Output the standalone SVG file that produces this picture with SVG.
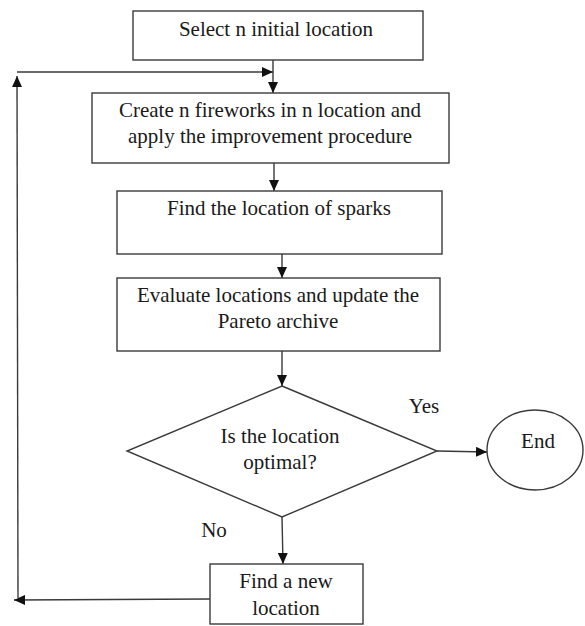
<svg xmlns="http://www.w3.org/2000/svg" width="585" height="626" viewBox="0 0 585 626">
  <style>
    .box { fill: #ffffff; stroke: #3a3a3a; stroke-width: 1.4; }
    .lbl { font-family: "Liberation Serif", "Times New Roman", serif; font-size: 21px; fill: #1a1a1a; text-anchor: middle; }
    .link { fill: none; stroke: #3a3a3a; stroke-width: 1.4; }
  </style>
  <defs>
    <marker id="arrow" viewBox="0 0 11 10" refX="11" refY="5" markerWidth="11" markerHeight="10" markerUnits="userSpaceOnUse" orient="auto">
      <path d="M0,0 L11,5 L0,10 Z" fill="#111111"/>
    </marker>
  </defs>
  <rect width="585" height="626" fill="#ffffff"/>

  <g id="connectors">
    <path class="link" d="M273,60 V93" marker-end="url(#arrow)"/>
    <path class="link" d="M17,72 H273" marker-end="url(#arrow)"/>
    <path class="link" d="M274,163 V191" marker-end="url(#arrow)"/>
    <path class="link" d="M282,254 V278" marker-end="url(#arrow)"/>
    <path class="link" d="M282,351 V386" marker-end="url(#arrow)"/>
    <path class="link" d="M437,451 L487,452" marker-end="url(#arrow)"/>
    <path class="link" d="M282,517 L283,564" marker-end="url(#arrow)"/>
    <path class="link" d="M210,599 L14,600" marker-end="url(#arrow)"/>
    <path class="link" d="M18,598 L17,76" marker-end="url(#arrow)"/>
  </g>

  <g id="select">
    <rect class="box" x="133" y="11" width="290" height="49"/>
    <text class="lbl" x="276" y="36">Select n initial location</text>
  </g>

  <g id="create">
    <rect class="box" x="92" y="93" width="357" height="70"/>
    <text class="lbl" x="270" y="117">Create n fireworks in n location and</text>
    <text class="lbl" x="270" y="143">apply the improvement procedure</text>
  </g>

  <g id="sparks">
    <rect class="box" x="117" y="191" width="325" height="63"/>
    <text class="lbl" x="279" y="215">Find the location of sparks</text>
  </g>

  <g id="evaluate">
    <rect class="box" x="117" y="278" width="323" height="73"/>
    <text class="lbl" x="278" y="302">Evaluate locations and update the</text>
    <text class="lbl" x="278" y="328">Pareto archive</text>
  </g>

  <g id="decision">
    <polygon class="box" points="282,386 437,451 282,517 127,451"/>
    <text class="lbl" x="280" y="443">Is the location</text>
    <text class="lbl" x="280" y="469">optimal?</text>
  </g>

  <g id="yes-label">
    <text class="lbl" x="424" y="413">Yes</text>
  </g>

  <g id="no-label">
    <text class="lbl" x="214" y="537">No</text>
  </g>

  <g id="end">
    <ellipse class="box" cx="535" cy="450" rx="48" ry="40"/>
    <text class="lbl" x="538" y="448">End</text>
  </g>

  <g id="new-location">
    <rect class="box" x="210" y="564" width="153" height="60"/>
    <text class="lbl" x="286" y="588">Find a new</text>
    <text class="lbl" x="286" y="615">location</text>
  </g>
</svg>
